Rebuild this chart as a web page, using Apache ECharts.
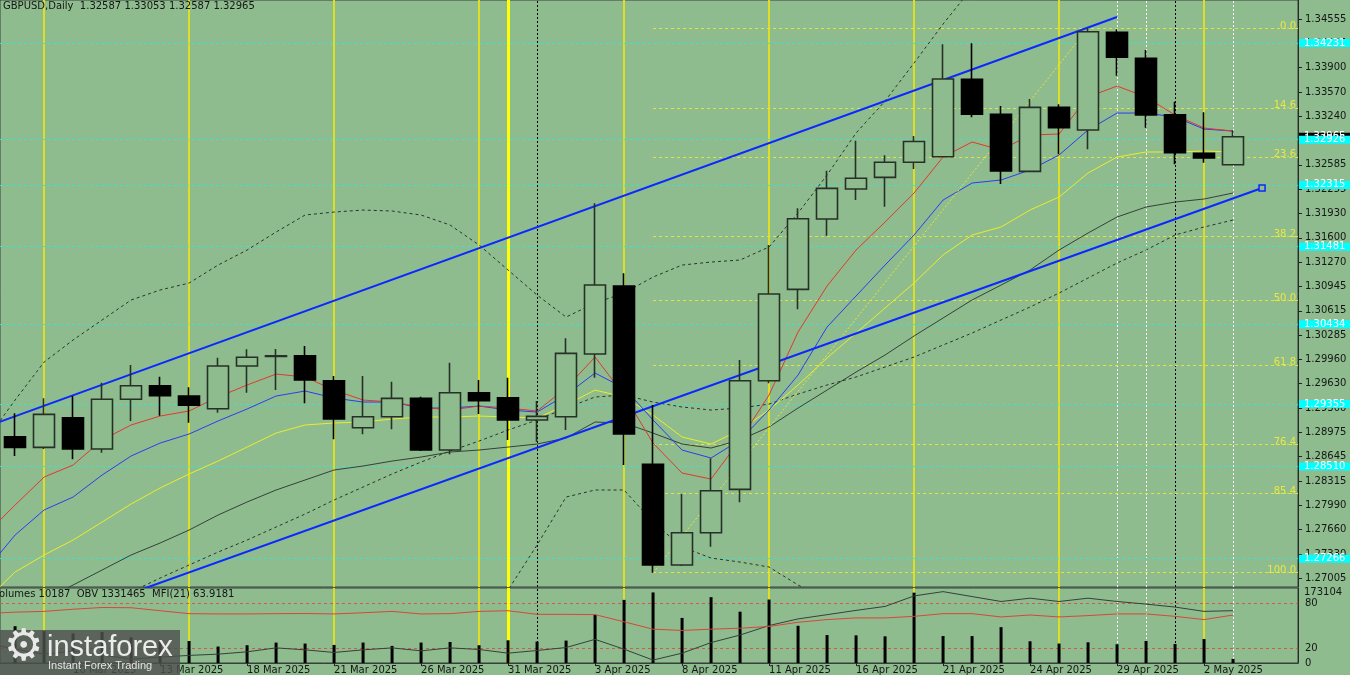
<!DOCTYPE html>
<html><head><meta charset="utf-8">
<script src="https://cdn.jsdelivr.net/npm/echarts/dist/echarts.min.js"></script>
<style>html,body{margin:0;padding:0;background:#8fbc8f;}#c{width:1350px;height:675px;}</style>
</head><body><div id="c"></div>
<script>
const symbolName = 'GBPUSD,Daily';
const dates = ['5 Mar 2025','6 Mar 2025','7 Mar 2025','10 Mar 2025','11 Mar 2025','12 Mar 2025','13 Mar 2025','14 Mar 2025','17 Mar 2025','18 Mar 2025','19 Mar 2025','20 Mar 2025','21 Mar 2025','24 Mar 2025','25 Mar 2025','26 Mar 2025','27 Mar 2025','28 Mar 2025','31 Mar 2025','1 Apr 2025','2 Apr 2025','3 Apr 2025','4 Apr 2025','7 Apr 2025','8 Apr 2025','9 Apr 2025','10 Apr 2025','11 Apr 2025','14 Apr 2025','15 Apr 2025','16 Apr 2025','17 Apr 2025','18 Apr 2025','21 Apr 2025','22 Apr 2025','23 Apr 2025','24 Apr 2025','25 Apr 2025','28 Apr 2025','29 Apr 2025','30 Apr 2025','1 May 2025','2 May 2025','5 May 2025'];
const open  = [1.27950,1.28914,1.28770,1.29170,1.28747,1.29419,1.29602,1.29463,1.29292,1.29868,1.29997,1.30008,1.29670,1.29035,1.29184,1.29432,1.28734,1.29508,1.29440,1.29139,1.29184,1.30031,1.30949,1.28541,1.27181,1.27617,1.28203,1.29670,1.30904,1.31854,1.32259,1.32417,1.32620,1.32695,1.33741,1.33268,1.32498,1.33362,1.33056,1.34375,1.34024,1.33262,1.32741,1.32587];
const high  = [1.29070,1.29230,1.29432,1.29463,1.29643,1.29882,1.29724,1.29581,1.29981,1.30094,1.30098,1.30139,1.29733,1.29733,1.29656,1.29454,1.29913,1.29679,1.29710,1.29396,1.30243,1.32066,1.31120,1.29342,1.28140,1.28622,1.29950,1.31503,1.31998,1.32506,1.32911,1.32714,1.32975,1.34213,1.34227,1.33380,1.33475,1.33403,1.34429,1.34416,1.34136,1.33438,1.33295,1.33053];
const low   = [1.27930,1.28653,1.28747,1.28608,1.28698,1.29126,1.29197,1.29103,1.29238,1.29508,1.29544,1.29365,1.28878,1.28946,1.29013,1.28720,1.28676,1.29220,1.28869,1.28846,1.29004,1.29710,1.28531,1.27077,1.27167,1.27428,1.28028,1.29635,1.30634,1.31628,1.32110,1.32020,1.32529,1.32685,1.33227,1.32327,1.32485,1.32728,1.32795,1.33789,1.33087,1.32593,1.32614,1.32587];
const close = [1.28940,1.28770,1.29216,1.28747,1.29419,1.29602,1.29467,1.29338,1.29868,1.29986,1.30008,1.29679,1.29153,1.29184,1.29432,1.28734,1.29508,1.29400,1.29139,1.29189,1.30040,1.30962,1.28950,1.27181,1.27617,1.28184,1.29670,1.30841,1.31858,1.32268,1.32404,1.32620,1.32901,1.33745,1.33268,1.32502,1.33362,1.33087,1.34383,1.34038,1.33258,1.32749,1.32678,1.32965];
const maRed    = [1.27600,1.27991,1.28369,1.28531,1.28869,1.29072,1.29193,1.29261,1.29450,1.29612,1.29760,1.29720,1.29544,1.29409,1.29382,1.29315,1.29274,1.29328,1.29301,1.29261,1.29571,1.29990,1.29477,1.28828,1.28423,1.28342,1.28869,1.29477,1.30328,1.30949,1.31435,1.31813,1.32205,1.32691,1.32894,1.32786,1.32988,1.33002,1.33502,1.33650,1.33502,1.33258,1.33083,1.33042];
const maBlue   = [1.27113,1.27586,1.27924,1.28099,1.28396,1.28653,1.28828,1.28950,1.29126,1.29288,1.29463,1.29531,1.29436,1.29382,1.29382,1.29301,1.29301,1.29328,1.29274,1.29247,1.29477,1.29774,1.29571,1.29139,1.28734,1.28626,1.28869,1.29274,1.29747,1.30395,1.30814,1.31232,1.31638,1.32110,1.32340,1.32381,1.32516,1.32718,1.33056,1.33285,1.33285,1.33231,1.33069,1.33042];
const maYellow = [1.26708,1.27086,1.27316,1.27518,1.27761,1.28005,1.28221,1.28410,1.28585,1.28774,1.28963,1.29072,1.29099,1.29112,1.29153,1.29180,1.29180,1.29193,1.29180,1.29166,1.29342,1.29544,1.29450,1.29207,1.28910,1.28815,1.29004,1.29274,1.29612,1.29977,1.30314,1.30652,1.30989,1.31368,1.31638,1.31746,1.31975,1.32151,1.32475,1.32691,1.32759,1.32759,1.32772,1.32759];
const maGray   = [1.26303,1.26505,1.26708,1.26911,1.27113,1.27316,1.27478,1.27653,1.27856,1.28032,1.28194,1.28329,1.28464,1.28518,1.28585,1.28639,1.28707,1.28734,1.28774,1.28815,1.28896,1.29112,1.29099,1.28963,1.28815,1.28761,1.28869,1.29045,1.29301,1.29544,1.29787,1.30017,1.30274,1.30517,1.30760,1.30962,1.31165,1.31435,1.31665,1.31881,1.32016,1.32083,1.32124,1.32205];
const bandMid  = [1.25871,1.26060,1.26249,1.26438,1.26627,1.26816,1.27005,1.27181,1.27356,1.27518,1.27694,1.27869,1.28059,1.28234,1.28410,1.28572,1.28720,1.28855,1.29004,1.29139,1.29301,1.29450,1.29477,1.29382,1.29315,1.29274,1.29301,1.29355,1.29490,1.29612,1.29720,1.29855,1.29990,1.30152,1.30314,1.30490,1.30665,1.30854,1.31057,1.31260,1.31435,1.31638,1.31746,1.31840];
const bandUp   = [1.28869,1.29409,1.29922,1.30220,1.30490,1.30760,1.30895,1.30989,1.31232,1.31435,1.31678,1.31908,1.31948,1.31975,1.31962,1.31908,1.31773,1.31503,1.31165,1.30827,1.30530,1.30719,1.30854,1.31070,1.31232,1.31273,1.31300,1.31476,1.31935,1.32448,1.33015,1.33448,1.33961,1.34487,1.34974,1.35285,1.35487,1.35649,1.35825,1.35919,1.35960,1.35960,1.35933,1.35892];
const bandLow  = [1.22900,1.22711,1.22575,1.22657,1.22764,1.22872,1.23115,1.23372,1.23480,1.23602,1.23710,1.23832,1.24169,1.24493,1.24858,1.25236,1.25668,1.26209,1.26843,1.27451,1.28099,1.28194,1.28194,1.27761,1.27424,1.27275,1.27221,1.27154,1.26911,1.26708,1.26438,1.26236,1.26033,1.25817,1.25628,1.25493,1.25358,1.25223,1.25087,1.24952,1.24817,1.24750,1.24709,1.24682];
const volume = [100000,90300,78200,72600,75800,62900,55700,54000,40400,43600,50100,47700,44300,50100,41900,50100,51600,43600,55700,52500,55000,118600,154900,173104,110600,161500,125900,155700,91300,68500,67800,65400,172600,66100,66100,87900,53300,47700,50800,46000,54000,46700,58800,10187];
const obv = [875000,785000,715000,757000,701000,645000,673000,697000,715000,748000,804000,776000,739000,776000,804000,762000,804000,781000,729000,767000,809000,925000,785000,631000,729000,879000,986000,1121000,1215000,1275000,1336000,1392000,1541000,1602000,1532000,1462000,1509000,1462000,1509000,1462000,1425000,1383000,1322000,1331465];
const mfi = [66.0,67.8,68.8,71.7,74.0,73.7,69.7,65.8,65.4,65.4,65.8,66.0,65.4,67.0,68.8,65.4,65.8,68.8,69.7,64.9,64.9,64.5,54.9,45.1,43.4,45.1,46.4,48.7,54.3,57.9,60.1,60.1,62.2,65.8,65.8,61.4,64.0,61.4,63.2,65.4,65.4,62.2,57.9,63.9181];
const priceTicks = [1.34555,1.34225,1.33900,1.33570,1.33240,1.32910,1.32585,1.32255,1.31930,1.31600,1.31270,1.30945,1.30615,1.30285,1.29960,1.29630,1.29300,1.28975,1.28645,1.28315,1.27990,1.27660,1.27330,1.27005];
const dateTickIdx = [3,6,9,12,15,18,21,24,27,30,33,36,39,42];
const mfiTicks = [0,20,80];
const volumeMaxLabel = 173104;
const cyanLevels = [1.34231,1.32926,1.32315,1.31481,1.30434,1.29355,1.28510,1.27266];
const fibLabels = ['0.0','14.6','23.6','38.2','50.0','61.8','76.4','85.4','100.0'];
const fibPrices = [1.34429,1.33356,1.32694,1.31620,1.30753,1.29885,1.28812,1.28150,1.27077];
const fibStartIdx = 23;
const fibTrend = [[23,1.27077],[38,1.34429]];
const upperChannel = [[0,1.29048],[39,1.34582]];
const lowerChannel = [[4,1.26660],[44,1.32272]];
const yellowSepIdx = [2,7,12,17,22,27,32,37,42];
const monthSepIdx = [18];
const whiteDotIdx = [39,40,43];
const blackDotIdx = [19,41];

const xMin = 0.48, xMax = 45.24;
const yMin = 1.26884, yMax = 1.34812;
const BG = '#8fbc8f';
const TXT = '#151515';
const FONT = 'DejaVu Sans';
const last = dates.length - 1;
const pairs = arr => arr.map((v, i) => [i, v]);

function vlines() {
  return [].concat(
    yellowSepIdx.map(i => ({xAxis: i, lineStyle: {color: '#dede22', width: 2, type: 'solid'}})),
    monthSepIdx.map(i => ({xAxis: i, lineStyle: {color: '#ffff00', width: 3, type: 'solid'}})),
    whiteDotIdx.map(i => ({xAxis: i, lineStyle: {color: '#ffffff', width: 1, type: [2, 2]}})),
    blackDotIdx.map(i => ({xAxis: i, lineStyle: {color: '#000000', width: 1, type: [2, 2]}}))
  );
}
const bgLevels = {
  silent: true, symbol: ['none', 'none'], z: 1, precision: 5,
  data: [].concat(
    cyanLevels.map(v => ({yAxis: v, lineStyle: {color: '#40e0d0', width: 1, type: [3, 3]}, label: {show: false}})),
    fibPrices.map((p, k) => [
      {coord: [fibStartIdx, p], lineStyle: {color: '#e4e43a', width: 1, type: [3, 3]},
       label: {show: true, position: 'insideEndTop', formatter: fibLabels[k], color: '#e8e840',
               fontFamily: FONT, fontSize: 10, distance: [2, -3]}},
      {coord: [xMax, p]}
    ])
  )
};
const boxLabel = (text, bg) => ({show: true, position: 'end', formatter: text, backgroundColor: bg, color: '#ffffff',
  padding: [0, 5, 0, 5], lineHeight: 8, fontFamily: FONT, fontSize: 10, distance: 1});
const axisBoxes = {
  silent: true, symbol: ['none', 'none'], z: 10, precision: 5,
  data: [].concat(
    [{yAxis: close[last], lineStyle: {color: 'rgba(0,0,0,0)', width: 0}, label: boxLabel(close[last].toFixed(5), '#000000')}],
    cyanLevels.map(v => ({yAxis: v, lineStyle: {color: 'rgba(0,0,0,0)', width: 0}, label: boxLabel(v.toFixed(5), '#00ffff')}))
  )
};
const lineS = (name, data, color, extra) => Object.assign({
  name, type: 'line', xAxisIndex: 0, yAxisIndex: 0, data: pairs(data), symbol: 'none',
  lineStyle: {color, width: 1}, z: 3, silent: true, clip: true
}, extra || {});

const chart = echarts.init(document.getElementById('c'));
const option = {
  animation: false,
  backgroundColor: BG,
  grid: [
    {left: 0, top: 0, width: 1298, height: 587, show: true, borderColor: '#36403a', borderWidth: 1},
    {left: 0, top: 588, width: 1298, height: 76, show: true, borderColor: '#36403a', borderWidth: 1}
  ],
  xAxis: [
    {type: 'value', gridIndex: 0, min: xMin, max: xMax, show: false},
    {type: 'value', gridIndex: 1, min: xMin, max: xMax, position: 'bottom', splitLine: {show: false},
     axisLine: {show: true, lineStyle: {color: '#36403a'}},
     axisTick: {show: true, customValues: dateTickIdx, length: 3, lineStyle: {color: '#222'}},
     axisLabel: {show: true, customValues: dateTickIdx, formatter: v => dates[Math.round(v)], align: 'left',
                 margin: 2, color: TXT, fontFamily: FONT, fontSize: 10}}
  ],
  yAxis: [
    {type: 'value', gridIndex: 0, position: 'right', min: yMin, max: yMax, splitLine: {show: false},
     axisLine: {show: true, lineStyle: {color: '#2a2a2a', width: 1}},
     axisTick: {show: true, customValues: priceTicks, length: 4, lineStyle: {color: '#222'}},
     axisLabel: {customValues: priceTicks, formatter: v => v.toFixed(5), color: TXT, fontFamily: FONT, fontSize: 10, margin: 7}},
    {type: 'value', gridIndex: 1, position: 'right', min: 0, max: 100, splitLine: {show: false},
     axisLine: {show: true, lineStyle: {color: '#2a2a2a', width: 1}},
     axisTick: {show: false},
     axisLabel: {customValues: mfiTicks, color: TXT, fontFamily: FONT, fontSize: 10, margin: 7}},
    {type: 'value', gridIndex: 1, position: 'right', min: 0, max: 184000, show: false},
    {type: 'value', gridIndex: 1, position: 'right', min: 589465, max: 1653465, show: false}
  ],
  series: [
    {type: 'line', xAxisIndex: 0, yAxisIndex: 0, data: [], z: 1, silent: true,
     markLine: {silent: true, symbol: ['none', 'none'], z: 1, label: {show: false}, data: vlines()}},
    lineS('BB upper', bandUp, '#2c332c', {lineStyle: {color: '#2c332c', width: 1, type: [3, 3]}}),
    lineS('BB middle', bandMid, '#2c332c', {lineStyle: {color: '#2c332c', width: 1, type: [3, 3]}, markLine: bgLevels}),
    lineS('BB lower', bandLow, '#2c332c', {lineStyle: {color: '#2c332c', width: 1, type: [3, 3]}}),
    lineS('MA gray', maGray, '#34403a'),
    lineS('MA yellow', maYellow, '#ecec28'),
    lineS('MA blue', maBlue, '#2b3cf0'),
    lineS('MA red', maRed, '#e0382e'),
    {type: 'line', xAxisIndex: 0, yAxisIndex: 0, data: fibTrend, symbol: 'none', z: 3, silent: true,
     lineStyle: {color: '#e8e830', width: 1, type: [2, 2]}},
    {type: 'line', xAxisIndex: 0, yAxisIndex: 0, data: upperChannel, symbol: 'none', z: 4, silent: true,
     lineStyle: {color: '#0a28ff', width: 2}},
    {type: 'line', xAxisIndex: 0, yAxisIndex: 0, symbol: 'none', showSymbol: true, z: 4, silent: true,
     data: [lowerChannel[0], {value: lowerChannel[1], symbol: 'rect', symbolSize: 6,
            itemStyle: {color: BG, borderColor: '#0a28ff', borderWidth: 1.5}}],
     lineStyle: {color: '#0a28ff', width: 2}},
    {type: 'candlestick', xAxisIndex: 0, yAxisIndex: 0, z: 5, silent: true, barWidth: 21,
     encode: {x: 0, y: [1, 2, 3, 4]},
     data: dates.map((d, i) => [i, open[i], close[i], low[i], high[i]]),
     itemStyle: {color: BG, color0: '#000000', borderColor: '#263026', borderColor0: '#000000', borderWidth: 1.6},
     markLine: axisBoxes},
    {type: 'line', xAxisIndex: 1, yAxisIndex: 1, data: [], z: 1, silent: true,
     markLine: {silent: true, symbol: ['none', 'none'], z: 1, label: {show: false}, data: vlines()}},
    {type: 'bar', xAxisIndex: 1, yAxisIndex: 2, data: pairs(volume), barWidth: 3, z: 3, silent: true,
     itemStyle: {color: '#000'},
     markLine: {silent: true, symbol: ['none', 'none'], z: 10, precision: 0,
       data: [{yAxis: volumeMaxLabel, lineStyle: {color: 'rgba(0,0,0,0)', width: 0},
               label: {show: true, position: 'end', formatter: String(volumeMaxLabel), color: TXT, fontFamily: FONT, fontSize: 10, distance: 6}}]}},
    {type: 'line', xAxisIndex: 1, yAxisIndex: 3, data: pairs(obv), symbol: 'none', z: 4, silent: true,
     lineStyle: {color: '#34403a', width: 1}},
    {type: 'line', xAxisIndex: 1, yAxisIndex: 1, data: pairs(mfi), symbol: 'none', z: 4, silent: true,
     lineStyle: {color: '#d8463a', width: 1},
     markLine: {silent: true, symbol: ['none', 'none'], z: 2, label: {show: false},
       data: [{yAxis: 80}, {yAxis: 20}], lineStyle: {color: '#d25a48', width: 1, type: [3, 3]}}}
  ],
  graphic: [
    {type: 'text', x: 3, y: 1, z: 20, style: {text: symbolName + '  ' + [open[last], high[last], low[last], close[last]].map(v => v.toFixed(5)).join(' '),
      fill: TXT, font: '10px "DejaVu Sans"'}},
    {type: 'text', x: -7, y: 589, z: 20, style: {text: 'Volumes ' + volume[last] + '  OBV ' + obv[last] + '  MFI(21) ' + mfi[last].toFixed(4),
      fill: TXT, font: '10px "DejaVu Sans"'}},
    {type: 'rect', x: 0, y: 630, z: 30, shape: {width: 180, height: 45}, style: {fill: 'rgba(78,80,78,0.82)'}},
    {type: 'text', x: 4, y: 627, z: 31, style: {text: '\u2699', fill: '#e8e8e8', font: '44px "DejaVu Sans"'}},
    {type: 'text', x: 47, y: 633, z: 31, style: {text: 'instaforex', fill: '#ececec', font: '29px "Liberation Sans"'}},
    {type: 'text', x: 48, y: 660, z: 31, style: {text: 'Instant Forex Trading', fill: '#e4e4e4', font: '11px "Liberation Sans"'}}
  ]
};
chart.setOption(option);
</script>
</body></html>
